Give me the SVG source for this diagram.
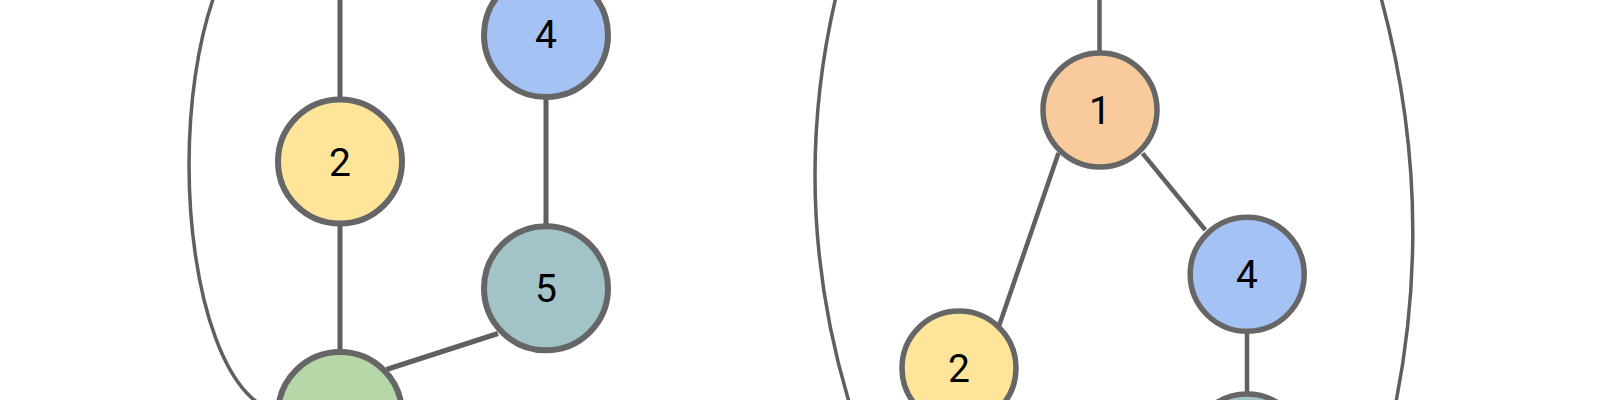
<svg xmlns="http://www.w3.org/2000/svg" width="1600" height="400" viewBox="0 0 1600 400">
<style>
.n{stroke:#666666;stroke-width:6}
.m{stroke:#666666;stroke-width:5.5}
.e{stroke:#606060;stroke-width:5;fill:none}
.e2{stroke:#606060;stroke-width:4.5;fill:none}
.c{stroke:#5f5f5f;stroke-width:3.5;fill:none}
.t{font-family:Roboto,"Liberation Sans",sans-serif;font-size:39px;fill:#000;text-anchor:middle}
.y{fill:#FFE599}.b{fill:#A4C2F4}.g{fill:#B6D7A8}.k{fill:#A2C4C9}.o{fill:#F9CB9C}
</style>
<rect width="1600" height="400" fill="#fff"/>
<g id="connectors">
<path class="c" d="M280,-80 A91,245 0 0 0 280,410"/>
<line class="e" x1="340" y1="-10" x2="340" y2="100"/>
<line class="e" x1="340" y1="223" x2="340" y2="352"/>
<line class="e" x1="546" y1="97" x2="546" y2="226"/>
<line class="e" x1="498" y1="333.5" x2="386.5" y2="369.5"/>
<path class="c" d="M848.4,-50 Q772.7,205 868.6,460"/>
<path class="c" d="M1366.7,-50 Q1450.1,205 1382.6,460"/>
<line class="e2" x1="1099.5" y1="-10" x2="1099.5" y2="54"/>
<line class="e2" x1="1058.5" y1="153" x2="999" y2="326"/>
<line class="e2" x1="1142.6" y1="153.3" x2="1205.3" y2="230"/>
<line class="e2" x1="1247" y1="330" x2="1247" y2="395"/>
</g>
<g id="L2"><circle class="n y" cx="340" cy="161.5" r="62"/><text class="t" x="340" y="175.5">2</text></g>
<g id="L4"><circle class="n b" cx="546" cy="35" r="62"/><text class="t" x="546" y="48">4</text></g>
<g id="L5"><circle class="n k" cx="546" cy="288.3" r="62"/><text class="t" x="546" y="302.3">5</text></g>
<g id="L3"><circle class="n g" cx="340" cy="414" r="62"/></g>
<g id="R1"><circle class="m o" cx="1100" cy="110" r="57"/><text class="t" x="1100" y="124">1</text></g>
<g id="R4"><circle class="m b" cx="1247.2" cy="274.3" r="57"/><text class="t" x="1247" y="288.3">4</text></g>
<g id="R2"><circle class="m y" cx="959" cy="368" r="57"/><text class="t" x="959" y="382">2</text></g>
<g id="R5"><circle class="m k" cx="1247" cy="451" r="57"/></g>
</svg>
